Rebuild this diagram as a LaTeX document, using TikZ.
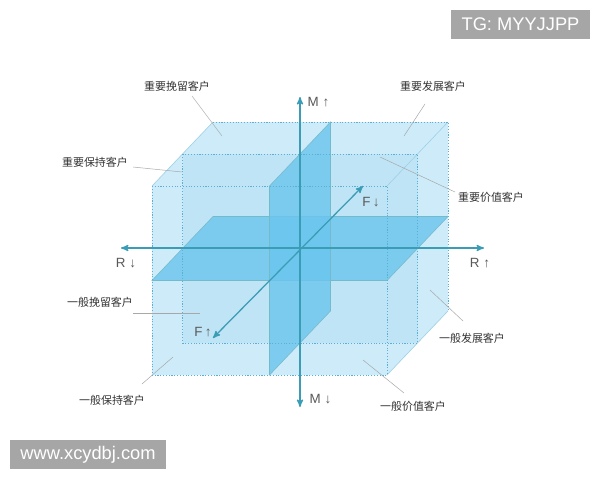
\documentclass[tikz,border=0pt]{standalone}
\usepackage{fontspec}
\setmainfont{Liberation Sans}
\newfontfamily\cjk{Noto Sans CJK SC}
\usetikzlibrary{arrows}
\definecolor{boxlight}{HTML}{CDEBF9}
\definecolor{boxmid}{HTML}{B6E0F4}
\definecolor{planeblue}{HTML}{6AC5EE}
\definecolor{edgeblue}{HTML}{5AAFD4}
\definecolor{axisteal}{HTML}{3A9DB5}
\definecolor{leadgray}{HTML}{A8A8A8}
\definecolor{markgray}{HTML}{A6A6A6}

\begin{document}
\begin{tikzpicture}[x=0.025cm,y=-0.025cm,>=stealth',
    box edge/.style={edgeblue,line width=0.6pt,dash pattern=on 0.8pt off 1.2pt},
    face edge/.style={edgeblue!60,line width=0.4pt},
    plane/.style={fill=planeblue,fill opacity=0.8,draw=axisteal!70,line width=0.4pt},
    axis/.style={<->,axisteal,line width=0.9pt},
    tag/.style={font=\cjk\fontsize{7.8}{9}\selectfont,text=black!80,inner sep=1pt},
    axis tag/.style={font=\fontsize{9.5}{11}\selectfont,text=black!65,inner sep=1pt},
    lead/.style={-,leadgray,line width=0.35pt},
    mark box/.style={fill=markgray,text=white,font=\fontsize{13}{15}\selectfont,inner sep=0pt,minimum height=0.725cm}]
   \useasboundingbox (0,0) rectangle (600,480);
   \fill[white] (0,0) rectangle (600,480);
   % corners of the cube
   \coordinate (ftl) at (152,186);
   \coordinate (ftr) at (387,186);
   \coordinate (fbr) at (387,375);
   \coordinate (fbl) at (152,375);
   \coordinate (btl) at (213,122);
   \coordinate (btr) at (448,122);
   \coordinate (bbr) at (448,311);
   \coordinate (bbl) at (213,311);
   \coordinate (mtl) at (182.5,154);
   \coordinate (mtr) at (417.5,154);
   \coordinate (mbr) at (417.5,343);
   \coordinate (mbl) at (182.5,343);
   % the two cutting planes
   \coordinate (hfl) at (152,280.5);
   \coordinate (hfr) at (387,280.5);
   \coordinate (hbr) at (448,216.5);
   \coordinate (hbl) at (213,216.5);
   \coordinate (vft) at (269.5,186);
   \coordinate (vbt) at (330.5,122);
   \coordinate (vbb) at (330.5,311);
   \coordinate (vfb) at (269.5,375);
   \fill[boxlight] (ftl) -- (btl) -- (btr) -- (bbr) -- (fbr) -- (fbl) -- cycle;
   \fill[boxmid,fill opacity=0.6] (mtl) rectangle (mbr);
   \filldraw[plane] (hfl) -- (hfr) -- (hbr) -- (hbl) -- cycle;
   \filldraw[plane] (vft) -- (vbt) -- (vbb) -- (vfb) -- cycle;
   \draw[face edge] (ftl) -- (btl);
   \draw[face edge] (ftr) -- (btr);
   \draw[face edge] (fbr) -- (bbr);
   \draw[box edge] (ftl) -- (ftr) -- (fbr) -- (fbl) -- cycle;
   \draw[box edge] (mtl) -- (mtr) -- (mbr) -- (mbl) -- cycle;
   \draw[box edge] (btl) -- (btr) -- (bbr);
   % axes
   \coordinate (mtop) at (300,97);
   \coordinate (mbot) at (300,407);
   \coordinate (rleft) at (121,248);
   \coordinate (rright) at (484,248);
   \coordinate (fback) at (363,186);
   \coordinate (ffront) at (213,338);
   \draw[axis] (mbot) -- (mtop);
   \draw[axis] (rleft) -- (rright);
   \draw[axis] (ffront) -- (fback);
   \node[axis tag,anchor=west] (mup) at (306,102) {M ↑};
   \node[axis tag,anchor=west] (mdown) at (308,399) {M ↓};
   \node[axis tag] (rdown) at (126,263) {R ↓};
   \node[axis tag] (rup) at (480,263) {R ↑};
   \node[axis tag] (fdown) at (371,202) {F\,↓};
   \node[axis tag] (fup) at (203,332) {F\,↑};
   % customer labels
   \node[tag] (zhwl) at (177,86) {重要挽留客户};
   \node[tag] (zhfz) at (433,86) {重要发展客户};
   \node[tag] (zhbc) at (95,162) {重要保持客户};
   \node[tag] (zhjz) at (491,197) {重要价值客户};
   \node[tag] (ybwl) at (100,302) {一般挽留客户};
   \node[tag] (ybfz) at (472,338) {一般发展客户};
   \node[tag] (ybbc) at (112,400) {一般保持客户};
   \node[tag] (ybjz) at (413,406) {一般价值客户};
   \coordinate (zhwl-a) at (192,96);   \coordinate (zhwl-b) at (222,136);
   \coordinate (zhfz-a) at (425,104);  \coordinate (zhfz-b) at (404,136);
   \coordinate (zhbc-a) at (133,167);  \coordinate (zhbc-b) at (182,172);
   \coordinate (zhjz-a) at (455,192);  \coordinate (zhjz-b) at (380,157);
   \coordinate (ybwl-a) at (133,313);  \coordinate (ybwl-b) at (200,313);
   \coordinate (ybfz-a) at (463,321);  \coordinate (ybfz-b) at (430,290);
   \coordinate (ybbc-a) at (142,384);  \coordinate (ybbc-b) at (173,357);
   \coordinate (ybjz-a) at (404,393);  \coordinate (ybjz-b) at (363,360);
   \path[lead] (zhwl-a) edge (zhwl-b);
   \path[lead] (zhfz-a) edge (zhfz-b);
   \path[lead] (zhbc-a) edge (zhbc-b);
   \path[lead] (zhjz-a) edge (zhjz-b);
   \path[lead] (ybwl-a) edge (ybwl-b);
   \path[lead] (ybfz-a) edge (ybfz-b);
   \path[lead] (ybbc-a) edge (ybbc-b);
   \path[lead] (ybjz-a) edge (ybjz-b);
   % watermarks
   \node[mark box,minimum width=3.475cm] (tg) at (520.5,24.5) {TG: MYYJJPP};
   \node[mark box,minimum width=3.9cm] (site) at (88,454.5) {www.xcydbj.com};
\end{tikzpicture}
\end{document}
